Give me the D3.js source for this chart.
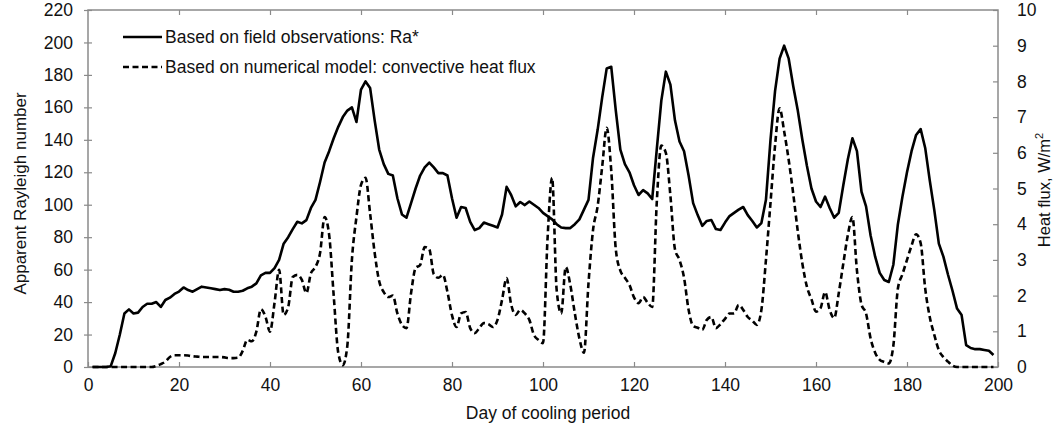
<!DOCTYPE html>
<html>
<head>
<meta charset="utf-8">
<script src="https://cdn.jsdelivr.net/npm/d3@7"></script>
<style>
  body { margin: 0; background: #fff; }
  svg { display: block; font-family: "Liberation Sans", Arial, sans-serif; }
</style>
</head>
<body>
<div id="chart"></div>
<script>
// day of cooling period
const days = d3.range(1, 200);

// apparent Rayleigh number from field observations (left axis)
const raStar = [
  0, 0, 0, 0, 0.5, 8.6, 20, 33, 35.5, 33,
  33.5, 37, 39, 39, 40, 37, 41.3, 42.7, 45, 46.5,
  49, 47.4, 46.4, 48, 49.5, 49, 48.5, 48, 47.4, 48,
  47.6, 46.4, 46.4, 47, 48.5, 49.5, 51.5, 56.5, 58, 58,
  61, 66, 76, 80, 85, 89.5, 88.5, 90.5, 98, 103,
  114, 126, 133, 141, 148, 154, 158, 160, 151, 171,
  176, 172, 152, 134, 125, 119, 118, 104, 94, 92,
  101, 110, 118, 123, 126, 123, 119.5, 119.5, 118, 104,
  92, 98.6, 98, 89.4, 84.4, 85.6, 89, 88, 87, 86,
  94, 111, 106, 99, 101.7, 99.8, 102, 100, 98, 95,
  93, 91, 88, 86, 85.6, 85.6, 88, 91, 97, 103,
  129, 146, 166, 184, 185, 158, 134, 125, 120, 112,
  106, 109, 107, 103.5, 134, 164, 182, 174, 152, 139,
  133, 118, 101, 93.6, 87, 90, 90.6, 85, 84.4, 89,
  93, 95, 97, 98.6, 93.6, 90, 86, 88.7, 103, 140,
  170, 190, 198, 190, 173, 158, 140, 124, 110, 102,
  98.6, 105, 98, 92, 95, 112, 128, 141, 133, 108,
  99, 81, 68, 58, 53.6, 52.4, 63, 88, 105, 120,
  133, 143, 146.6, 135, 115, 96.7, 76, 68, 57, 47,
  36, 32, 13.5, 11.7, 11, 11, 10.5, 10, 7.4
];

// convective heat flux from numerical model, W/m2 (right axis)
const heatFlux = [
  0, 0, 0, 0, 0, 0, 0, 0, 0, 0,
  0, 0, 0, 0, 0.03, 0.08, 0.15, 0.28, 0.33, 0.33,
  0.33, 0.32, 0.3, 0.29, 0.28, 0.28, 0.28, 0.28, 0.28, 0.27,
  0.25, 0.25, 0.26, 0.45, 0.76, 0.72, 0.99, 1.62, 1.41, 0.99,
  1.8, 2.72, 1.46, 1.68, 2.52, 2.58, 2.44, 2.07, 2.63, 2.8,
  3.19, 4.2, 3.7, 2.0, 0.4, 0.05, 0.6, 3.0, 4.2, 5.1,
  5.3, 4.3, 3.2, 2.4, 2.1, 1.96, 2.0, 1.5, 1.18, 1.09,
  2.07, 2.77, 2.86, 3.36, 3.3, 2.6, 2.5, 2.58, 2.1, 1.45,
  1.12, 1.5, 1.54, 1.09, 0.95, 1.09, 1.23, 1.2, 1.12, 1.32,
  1.88, 2.49, 1.75, 1.46, 1.6, 1.5, 1.32, 0.9, 0.76, 0.67,
  3.6, 5.3, 2.16, 1.5, 2.8, 2.3, 1.5, 0.8, 0.4, 2.35,
  3.84, 4.5, 5.6, 6.7, 5.5, 3.3, 2.7, 2.5, 2.3, 1.95,
  1.79, 1.96, 1.8, 1.68, 4.6, 6.2, 6.0, 4.8, 3.3, 3.0,
  2.5, 1.6, 1.15, 1.1, 1.04, 1.32, 1.4, 1.09, 1.2, 1.35,
  1.5, 1.5, 1.74, 1.6, 1.4, 1.3, 1.18, 1.6, 3.0, 4.6,
  6.2, 7.25, 6.6, 5.8, 4.85, 3.8, 2.9, 2.25, 1.9, 1.55,
  1.65, 2.1, 1.6, 1.37, 2.07, 2.9, 3.7, 4.2, 2.7, 1.75,
  1.5, 0.8, 0.4, 0.2, 0.14, 0.1, 0.6, 2.2, 2.6, 3.0,
  3.4, 3.72, 3.47, 2.2, 1.4, 0.9, 0.47, 0.28, 0.15, 0.04,
  0, 0, 0, 0, 0, 0, 0, 0, 0
];

const xTicks = [0, 20, 40, 60, 80, 100, 120, 140, 160, 180, 200];
const yLeftTicks = [0, 20, 40, 60, 80, 100, 120, 140, 160, 180, 200, 220];
const yRightTicks = [0, 1, 2, 3, 4, 5, 6, 7, 8, 9, 10];
const legendLabels = [
  "Based on field observations: Ra*",
  "Based on numerical model: convective heat flux"
];

const width = 1060, height = 426;
const margin = {top: 10, right: 62, bottom: 59, left: 88};
const axisColor = "#8a8a8a";

const svg = d3.select("#chart").append("svg")
    .attr("width", width)
    .attr("height", height);

const x = d3.scaleLinear().domain([0, 200]).range([margin.left, width - margin.right]);
const yL = d3.scaleLinear().domain([0, 220]).range([height - margin.bottom, margin.top]);
const yR = d3.scaleLinear().domain([0, 10]).range([height - margin.bottom, margin.top]);

// frame
svg.append("rect")
    .attr("x", margin.left)
    .attr("y", margin.top)
    .attr("width", width - margin.left - margin.right)
    .attr("height", height - margin.top - margin.bottom)
    .attr("fill", "none")
    .attr("stroke", axisColor)
    .attr("stroke-width", 1.5);

function styleAxis(g) {
  g.select(".domain").remove();
  g.selectAll(".tick line").attr("stroke", axisColor).attr("stroke-width", 1.2);
  g.selectAll(".tick text")
      .attr("fill", "#111")
      .style("font-size", "17.5px")
      .style("font-family", "'Liberation Sans', Arial, sans-serif");
}

// bottom axis, ticks inside
svg.append("g")
    .attr("transform", `translate(0,${yL(0)})`)
    .call(d3.axisBottom(x).tickValues(xTicks).tickSizeInner(-5).tickSizeOuter(0).tickPadding(12))
    .call(styleAxis);

// top ticks
svg.append("g")
    .attr("transform", `translate(0,${margin.top})`)
    .call(d3.axisTop(x).tickValues(xTicks.slice(1, -1)).tickSizeInner(-5).tickSizeOuter(0).tickFormat(""))
    .call(styleAxis);

// left axis, cross ticks
const gl = svg.append("g")
    .attr("transform", `translate(${margin.left},0)`)
    .call(d3.axisLeft(yL).tickValues(yLeftTicks).tickSizeInner(5).tickSizeOuter(0).tickPadding(10))
    .call(styleAxis);
gl.selectAll(".tick line").attr("x1", 4).attr("x2", -4);

// right axis, ticks inside
svg.append("g")
    .attr("transform", `translate(${width - margin.right},0)`)
    .call(d3.axisRight(yR).tickValues(yRightTicks).tickSizeInner(-5).tickSizeOuter(0).tickPadding(19))
    .call(styleAxis);

// axis titles
svg.append("text")
    .attr("transform", `translate(22,${(margin.top + yL(0)) / 2 + 5}) rotate(-90)`)
    .attr("text-anchor", "middle")
    .attr("dominant-baseline", "middle")
    .style("font-size", "17px")
    .attr("fill", "#111")
    .text("Apparent Rayleigh number");

svg.append("text")
    .attr("x", (margin.left + width - margin.right) / 2 + 5)
    .attr("y", 419)
    .attr("text-anchor", "middle")
    .style("font-size", "17.5px")
    .attr("fill", "#111")
    .text("Day of cooling period");

const rt = svg.append("text")
    .attr("transform", `translate(1046,190) rotate(-90)`)
    .attr("text-anchor", "middle")
    .attr("dominant-baseline", "middle")
    .style("font-size", "16.5px")
    .attr("fill", "#111");
rt.append("tspan").text("Heat flux,  W/m");
rt.append("tspan").attr("baseline-shift", "super").style("font-size", "11px").text("2");

// series
const lineRa = d3.line()
    .x((d, i) => x(days[i]))
    .y(d => yL(d));

const lineHf = d3.line()
    .x((d, i) => x(days[i]))
    .y(d => yR(d))
    .curve(d3.curveMonotoneX);

svg.append("path")
    .datum(heatFlux)
    .attr("d", lineHf)
    .attr("fill", "none")
    .attr("stroke", "#000")
    .attr("stroke-width", 2.6)
    .attr("stroke-dasharray", "6,3.5");

svg.append("path")
    .datum(raStar)
    .attr("d", lineRa)
    .attr("fill", "none")
    .attr("stroke", "#000")
    .attr("stroke-width", 2.6)
    .attr("stroke-linejoin", "round");

// legend
const legend = svg.append("g").attr("transform", "translate(123,37)");
legendLabels.forEach((label, i) => {
  const row = legend.append("g").attr("transform", `translate(0,${i * 30})`);
  row.append("line")
      .attr("x1", 0).attr("x2", 39)
      .attr("stroke", "#000")
      .attr("stroke-width", 2.6)
      .attr("stroke-dasharray", i === 0 ? null : "6,3.5");
  row.append("text")
      .attr("x", 42)
      .attr("y", 6)
      .style("font-size", "17.5px")
      .attr("fill", "#111")
      .text(label);
});
</script>
</body>
</html>
